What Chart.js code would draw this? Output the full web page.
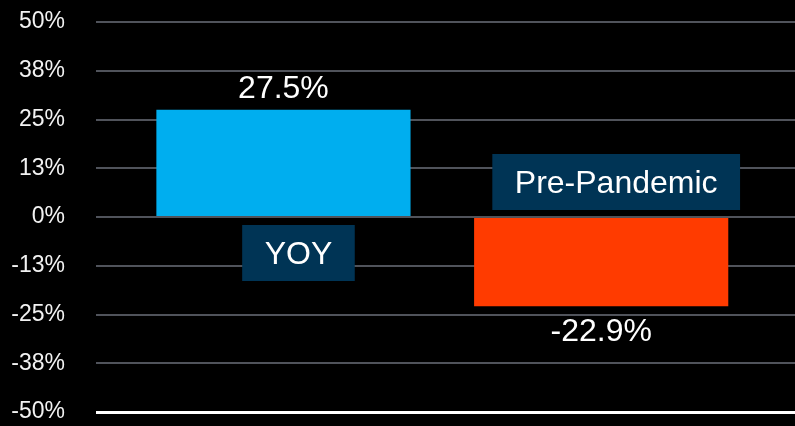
<!DOCTYPE html>
<html>
<head>
<meta charset="utf-8">
<script src="https://cdn.jsdelivr.net/npm/chart.js@4"></script>
<style>
  html, body { margin: 0; padding: 0; background: #000; }
  #wrap { width: 795px; height: 426px; }
</style>
</head>
<body>
<div id="wrap"><canvas id="js-chart-yoy"></canvas></div>
<script>
// Chart data
const categories = ['YOY', 'Pre-Pandemic'];
const changeValues = [27.5, -22.9];
const valueLabels = ['27.5%', '-22.9%'];
const yTickLabels = ['-50%', '-38%', '-25%', '-13%', '0%', '13%', '25%', '38%', '50%'];
const barColors = ['#00aeef', '#ff3b00'];

const labelFont = '32px "Liberation Sans", Arial, sans-serif';

// Value + category box labels
const barLabels = {
  id: 'barLabels',
  afterDatasetsDraw(chart) {
    const ctx = chart.ctx;
    const meta = chart.getDatasetMeta(0);
    const zeroY = chart.scales.y.getPixelForValue(0);
    ctx.save();
    ctx.font = labelFont;
    ctx.textAlign = 'center';
    ctx.textBaseline = 'alphabetic';
    meta.data.forEach(function (bar, i) {
      const up = changeValues[i] >= 0;
      // value label
      ctx.fillStyle = '#ffffff';
      ctx.fillText(valueLabels[i], bar.x, up ? bar.y - 12 : bar.y + 35);

      // category box on the other side of zero
      const tw = ctx.measureText(categories[i]).width;
      const bw = tw + 45, bh = 56;
      const cx = bar.x + 15;
      const top = up ? zeroY + 8 : zeroY - 7 - bh;
      ctx.fillStyle = '#003455';
      ctx.fillRect(cx - bw / 2, top, bw, bh);
      ctx.fillStyle = '#ffffff';
      ctx.fillText(categories[i], cx, top + bh / 2 + 11);
    });
    ctx.restore();
  }
};

let chartCon = document.getElementById('js-chart-yoy');

let chartData = {
  datasets: [
    {
      data: categories.map(function (c, i) { return {x: i, y: changeValues[i]}; }),
      backgroundColor: barColors,
      borderWidth: 0,
      barPercentage: 0.8,
      categoryPercentage: 1.0
    }
  ]
};

let chartOptions = {
  responsive: true,
  maintainAspectRatio: false,
  animation: false,
  layout: {
    padding: {top: 22, right: 0, bottom: 14, left: 0}
  },
  scales: {
    x: {
      type: 'linear',
      display: false,
      min: -0.59,
      max: 1.61,
      // bar width from the spacing of the data only
      afterBuildTicks: function (scale) { scale.ticks = []; }
    },
    y: {
      min: -50,
      max: 50,
      border: {display: false},
      afterFit: function (scale) {
        scale.width = 96;
        scale.paddingTop = 0;
        scale.paddingBottom = 0;
      },
      grid: {
        drawTicks: false,
        color: function (c) { return c.tick && c.tick.value === -50 ? '#ffffff' : '#50535b'; },
        lineWidth: function (c) { return c.tick && c.tick.value === -50 ? 3 : 2; }
      },
      ticks: {
        stepSize: 12.5,
        padding: 31,
        color: '#f2f2f2',
        font: {family: '"Liberation Sans", Arial, sans-serif', size: 23},
        callback: function (v, i) { return yTickLabels[i]; }
      }
    }
  },
  plugins: {
    legend: {display: false},
    tooltip: {enabled: false}
  }
};

new Chart(chartCon, {type: 'bar', data: chartData, options: chartOptions, plugins: [barLabels]});
</script>
</body>
</html>
